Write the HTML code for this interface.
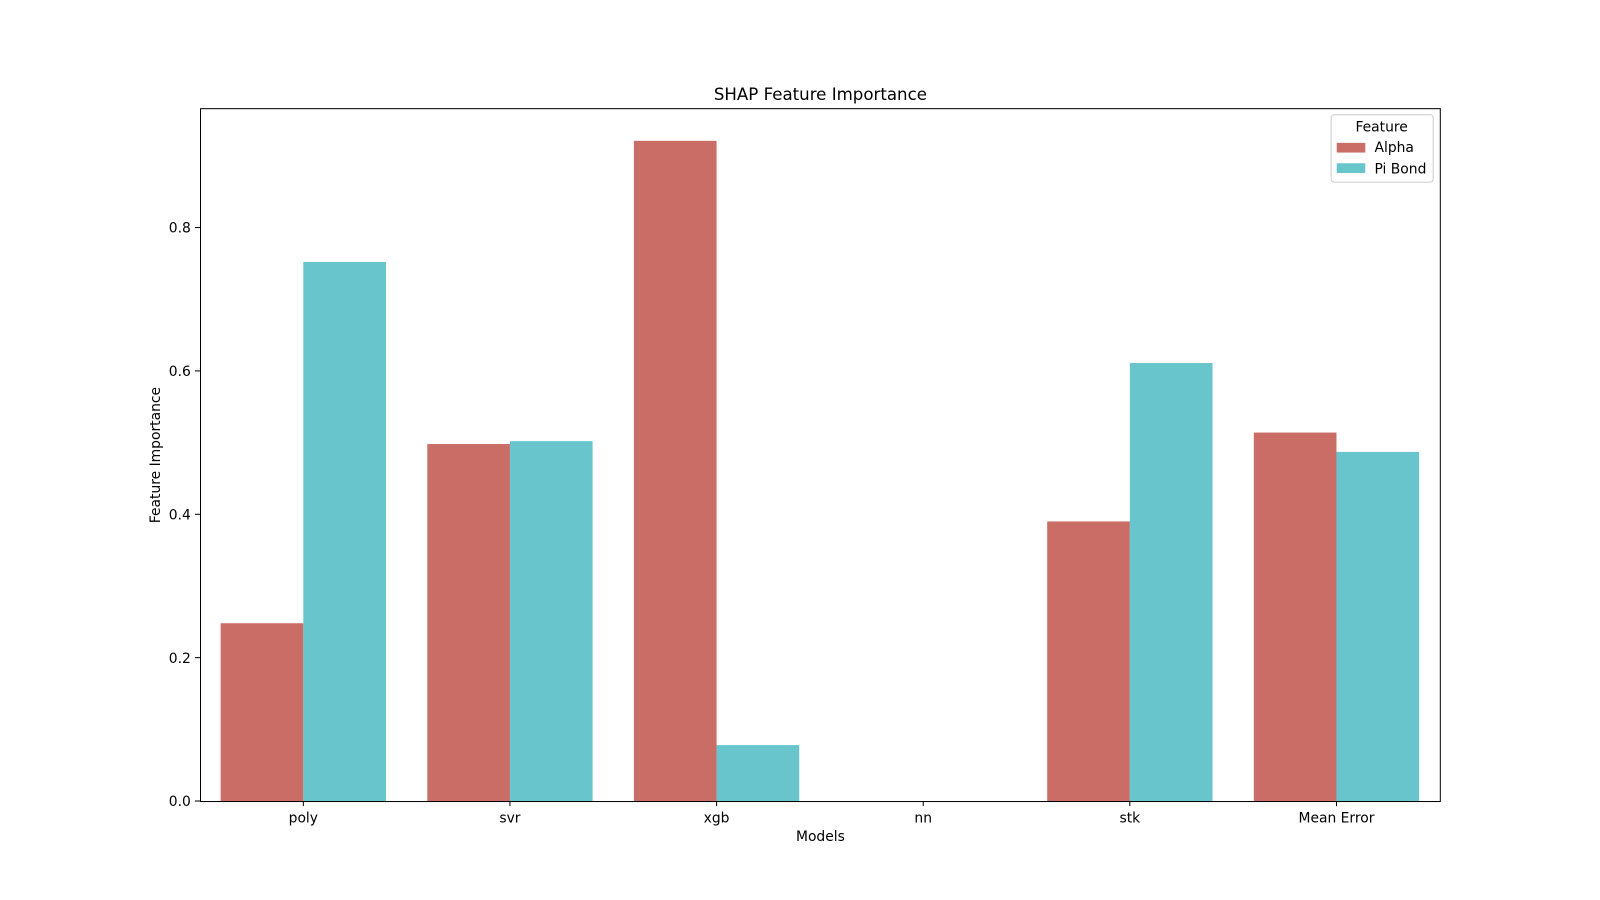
<!DOCTYPE html>
<html><head><meta charset="utf-8"><style>
body{margin:0;background:#fff;}
svg{display:block;font-family:"DejaVu Sans","Liberation Sans",sans-serif;}
</style></head><body>
<svg id="chart" width="1600" height="900" viewBox="0 0 1568 882">
<rect width="1568" height="882" fill="#fff"/>
<text x="804" y="98" text-anchor="middle" font-size="16.3" fill="#000">SHAP Feature Importance</text>
<g id="bars"></g>
<g id="axes"></g>
<text x="804" y="824" text-anchor="middle" font-size="13.6">Models</text>
<text transform="translate(157,446) rotate(-90)" text-anchor="middle" font-size="13.6">Feature Importance</text>
<g>
<rect x="1304.5" y="112.5" width="100" height="66" rx="3" fill="#fff" fill-opacity="0.8" stroke="#ccc"/>
<text x="1354" y="129" text-anchor="middle" font-size="13.6">Feature</text>
<rect x="1310" y="140" width="28" height="9.5" fill="#c96d66"/>
<text x="1347" y="149" font-size="13.6">Alpha</text>
<rect x="1310" y="160" width="28" height="9.5" fill="#67c5cb"/>
<text x="1347" y="170" font-size="13.6">Pi Bond</text>
</g>
</svg>
<script>
const categories = ["poly","svr","xgb","nn","stk","Mean Error"];
const alphaValues = [0.248,0.498,0.921,0,0.390,0.514];
const piBondValues = [0.752,0.502,0.078,0,0.611,0.487];
const yTicks = [0.0,0.2,0.4,0.6,0.8];
const L=196,R=1411,T=106,B=785;
const yMax = 0.8/((B-223)/(B-T));
const ns="http://www.w3.org/2000/svg";
const band=(R-L)/categories.length;
function xc(i){return L+band*(i+0.5);}
function y(v){return B-(v/yMax)*(B-T);}
const bars=document.getElementById('bars'), axes=document.getElementById('axes');
const bw=band*0.4;
function mk(t,a,p){const e=document.createElementNS(ns,t);for(const k in a)e.setAttribute(k,a[k]);p.appendChild(e);return e;}
categories.forEach((c,i)=>{
  const a=mk('rect',{x:xc(i)-bw,y:y(alphaValues[i]),width:bw,height:B-y(alphaValues[i]),fill:'#c96d66'},bars);
  
  
  const p=mk('rect',{x:xc(i),y:y(piBondValues[i]),width:bw,height:B-y(piBondValues[i]),fill:'#67c5cb'},bars);
  
  
  mk('line',{x1:xc(i),x2:xc(i),y1:B,y2:B+5,stroke:'#000','stroke-width':1},axes);
  const t=mk('text',{x:xc(i),y:B+21,'text-anchor':'middle','font-size':13.6},axes);
  t.textContent=c;
  
  
});
yTicks.forEach(v=>{
  mk('line',{x1:L-5,x2:L,y1:y(v),y2:y(v),stroke:'#000','stroke-width':1},axes);
  const t=mk('text',{x:L-9,y:y(v)+5,'text-anchor':'end','font-size':13.6},axes);
  t.textContent=v.toFixed(1);
  
  
});
const f=mk('rect',{x:L+0.5,y:T+0.5,width:R-L,height:B-T,fill:'none',stroke:'#000','stroke-width':1},axes);


</script>
</body></html>
